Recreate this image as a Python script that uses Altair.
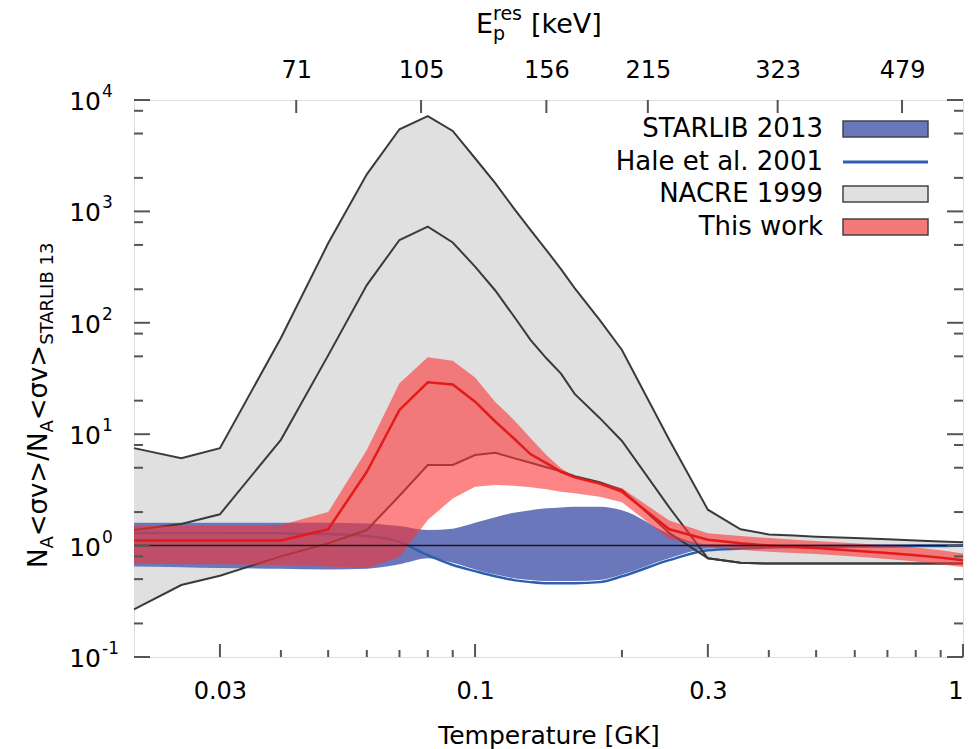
import math
import altair as alt
import pandas as pd

# ---------------- data ----------------
T = [0.02, 0.025, 0.03, 0.04, 0.05, 0.06, 0.07, 0.08, 0.09, 0.1, 0.11, 0.12, 0.13, 0.14,
     0.15, 0.16, 0.18, 0.2, 0.25, 0.3, 0.35, 0.4, 0.45, 0.5, 0.6, 0.7, 0.8, 0.9, 1.0]

NACRE_HI = [7.5, 6.1, 7.5, 73, 517, 2150, 5460, 7180, 5270, 3000, 1790, 1070, 680, 450,
            303, 205, 106, 57, 8.9, 2.1, 1.4, 1.26, 1.23, 1.2, 1.17, 1.14, 1.11, 1.09, 1.07]
NACRE_MID = [1.38, 1.56, 1.91, 8.9, 51, 218, 554, 729, 526, 319, 195, 115, 70, 48,
             35, 23, 14, 8.7, 2.2, 0.77, 0.7, 0.69, 0.69, 0.69, 0.69, 0.69, 0.69, 0.69, 0.69]
NACRE_LO = [0.268, 0.443, 0.537, 0.80, 1.05, 1.38, 2.8, 5.29, 5.29, 6.5, 6.8, 6.1, 5.55, 5.05,
            4.65, 4.2, 3.7, 3.16, 1.3, 0.77, 0.70, 0.69, 0.69, 0.69, 0.69, 0.69, 0.69, 0.69, 0.69]

WORK_MID = [1.11, 1.11, 1.11, 1.11, 1.4, 4.6, 16.5, 29.2, 28, 19.6, 13, 9.2, 6.6, 5.5,
            4.6, 4.1, 3.6, 3.05, 1.4, 1.13, 1.05, 1.0, 0.97, 0.95, 0.9, 0.86, 0.82, 0.78, 0.74]
WORK_HI = [1.5, 1.5, 1.51, 1.53, 2.0, 7.2, 28.6, 49, 45.7, 32.3, 19.5, 13.5, 9.2, 6.5,
           4.95, 4.15, 3.7, 3.27, 1.68, 1.29, 1.22, 1.17, 1.13, 1.1, 1.05, 1.0, 0.96, 0.91, 0.85]
WORK_LO = [0.69, 0.68, 0.68, 0.67, 0.65, 0.625, 0.79, 1.7, 2.65, 3.38, 3.5, 3.45, 3.34, 3.2,
           3.05, 2.95, 2.75, 2.45, 1.15, 0.98, 0.92, 0.88, 0.86, 0.84, 0.8, 0.76, 0.72, 0.68, 0.64]

STARLIB_HI = [1.6, 1.6, 1.6, 1.6, 1.6, 1.58, 1.5, 1.38, 1.42, 1.6, 1.8, 1.97, 2.08, 2.16,
              2.2, 2.23, 2.23, 2.08, 1.28, 1.03, 1.03, 1.03, 1.03, 1.03, 1.03, 1.03, 1.03, 1.03, 1.03]
STARLIB_LO = [0.65, 0.64, 0.63, 0.62, 0.61, 0.62, 0.68, 0.77, 0.70, 0.61, 0.55, 0.51, 0.49, 0.48,
              0.48, 0.48, 0.49, 0.55, 0.77, 0.94, 0.96, 0.97, 0.97, 0.97, 0.97, 0.97, 0.97, 0.97, 0.97]
HALE = [1.3, 1.3, 1.3, 1.29, 1.27, 1.22, 1.08, 0.82, 0.67, 0.59, 0.53, 0.49, 0.47, 0.46,
        0.46, 0.46, 0.47, 0.53, 0.74, 0.91, 0.94, 0.96, 0.97, 0.97, 0.98, 0.98, 0.99, 0.99, 1.0]
REFERENCE = [1.0]

X_MAJOR = [0.03, 0.1, 0.3, 1.0]
X_MINOR = [0.04, 0.05, 0.06, 0.07, 0.08, 0.09, 0.2, 0.4, 0.5, 0.6, 0.7, 0.8, 0.9]
Y_MAJOR = [0.1, 1, 10, 100, 1000, 10000]
Y_EXP = ["-1", "0", "1", "2", "3", "4"]
Y_MINOR = [0.2, 0.5, 0.8, 2, 5, 8, 20, 50, 80, 200, 500, 800, 2000, 5000, 8000]
T_TOP = [0.043, 0.0775, 0.140, 0.226, 0.417, 0.75]
E_TOP = ["71", "105", "156", "215", "323", "479"]

LEG_LABELS = ["STARLIB 2013", "Hale et al. 2001", "NACRE 1999", "This work"]

# ---------------- styling ----------------
W, H = 829, 557
FONT = "DejaVu Sans"
GREY = "#e0e0e0"
BLUE_FILL = "#6a77ba"
BLUE_LINE = "#2c5fb0"
RED = "#fb3333"
RED_LINE = "#e41a1c"
DARK = "#3a3a3a"
TICK = "#555555"

xs = alt.Scale(type="log", domain=[0.02, 1.0], nice=False)
ys = alt.Scale(type="log", domain=[0.1, 10000], nice=False)


def ternary(vals, labels):
    expr = "'" + labels[-1] + "'"
    for i in range(len(vals) - 2, -1, -1):
        thr = math.sqrt(vals[i] * vals[i + 1])
        expr = "datum.value < %g ? '%s' : (%s)" % (thr, labels[i], expr)
    return expr


def X(field, axis=None):
    return alt.X(field, type="quantitative", scale=xs, axis=axis)


def Y(field, axis=None):
    return alt.Y(field, type="quantitative", scale=ys, axis=axis)


df = pd.DataFrame({
    "T": T, "n_hi": NACRE_HI, "n_mid": NACRE_MID, "n_lo": NACRE_LO,
    "r_hi": WORK_HI, "r_mid": WORK_MID, "r_lo": WORK_LO,
    "s_hi": STARLIB_HI, "s_lo": STARLIB_LO, "hale": HALE,
})
base = alt.Chart(df)

nacre_band = base.mark_area(color=GREY).encode(x=X("T"), y=Y("n_hi"), y2="n_lo")
st_band = base.mark_area(color=BLUE_FILL, interpolate="monotone").encode(
    x=X("T"), y=Y("s_hi"), y2="s_lo")
hale_line = base.mark_line(color=BLUE_LINE, strokeWidth=2.5, interpolate="monotone").encode(
    x=X("T"), y=Y("hale"))
red_band = base.mark_area(color=RED, opacity=0.6).encode(x=X("T"), y=Y("r_hi"), y2="r_lo")
red_line = base.mark_line(color=RED_LINE, strokeWidth=2.5).encode(x=X("T"), y=Y("r_mid"))
n_lines = [base.mark_line(color=DARK, strokeWidth=2).encode(x=X("T"), y=Y(f))
           for f in ["n_hi", "n_mid", "n_lo"]]
ref_line = alt.Chart(pd.DataFrame({"v": REFERENCE})).mark_rule(
    color="#1a1a1a", strokeWidth=1.5).encode(y=Y("v"))

# ---------------- axes (inward ticks drawn as rules) ----------------
bottom_axis = alt.Axis(orient="bottom", values=X_MAJOR, format="~g", ticks=False, domain=False,
                       grid=False, labelFontSize=24, labelPadding=22, labelFont=FONT,
                       labelColor="black", title="Temperature [GK]", titleFontSize=25,
                       titleFont=FONT, titleFontWeight="normal", titleColor="black",
                       titlePadding=20)
top_axis = alt.Axis(orient="top", values=T_TOP, labelExpr=ternary(T_TOP, E_TOP), ticks=False,
                    domain=False, grid=False, labelFontSize=24, labelPadding=18,
                    labelFont=FONT, labelColor="black", title=None)

xmaj = pd.DataFrame({"t": X_MAJOR})
xmin = pd.DataFrame({"t": X_MINOR})
xtop = pd.DataFrame({"t": T_TOP})
ymaj = pd.DataFrame({"v": Y_MAJOR, "e": Y_EXP})
ymin = pd.DataFrame({"v": Y_MINOR})

tick_layers = [
    alt.Chart(xmaj).mark_rule(color=TICK, strokeWidth=2).encode(
        x=X("t", bottom_axis), y=alt.value(H), y2=alt.value(H - 13)),
    alt.Chart(xmin).mark_rule(color=TICK, strokeWidth=2).encode(
        x=X("t"), y=alt.value(H), y2=alt.value(H - 7)),
    alt.Chart(xtop).mark_rule(color=TICK, strokeWidth=2).encode(
        x=X("t", top_axis), y=alt.value(0), y2=alt.value(13)),
    alt.Chart(ymaj).mark_rule(color=TICK, strokeWidth=2).encode(
        y=Y("v"), x=alt.value(0), x2=alt.value(16)),
    alt.Chart(ymin).mark_rule(color=TICK, strokeWidth=2).encode(
        y=Y("v"), x=alt.value(0), x2=alt.value(9)),
    alt.Chart(ymaj).mark_rule(color=TICK, strokeWidth=2).encode(
        y=Y("v"), x=alt.value(W), x2=alt.value(W - 16)),
    alt.Chart(ymin).mark_rule(color=TICK, strokeWidth=2).encode(
        y=Y("v"), x=alt.value(W), x2=alt.value(W - 9)),
    # y tick labels: "10" with a raised exponent
    alt.Chart(ymaj).mark_text(font=FONT, fontSize=25, align="right", baseline="middle",
                              color="black", dy=2).encode(
        y=Y("v"), x=alt.value(-33), text=alt.value("10")),
    alt.Chart(ymaj).mark_text(font=FONT, fontSize=17, align="left", baseline="middle",
                              color="black", dy=-8).encode(
        y=Y("v"), x=alt.value(-32), text="e:N"),
]

# ---------------- titles built from pieces (sub/superscripts) ----------------
one = pd.DataFrame({"k": [0]})


def txt(s, x, y, size, angle=0, align="left"):
    kw = dict(font=FONT, fontSize=size, color="black", align=align, baseline="alphabetic")
    if angle:
        kw["angle"] = angle
    return alt.Chart(one).mark_text(**kw).encode(
        x=alt.value(x), y=alt.value(y), text=alt.value(s))


MAIN, SUB = 26, 18
y_title = [
    txt("N", -87, 468, MAIN, 270),
    txt("A", -81, 448.6, SUB, 270),
    txt("<\u03c3v>/N", -87, 436.3, MAIN, 270),
    txt("A", -81, 332.6, SUB, 270),
    txt("<\u03c3v>", -87, 320.3, MAIN, 270),
    txt("STARLIB 13", -81, 244.8, SUB, 270),
]
top_title = [
    txt("E", 342, -67, 27),
    txt("p", 359, -60, 19),
    txt("res", 359, -80, 19),
    txt("[keV]", 397, -67, 27),
]

# ---------------- legend ----------------
LX_TEXT, LX0, LX1 = 689, 709, 794
ROWS = [29, 62, 94, 127]
legend = []
for lab, ry in zip(LEG_LABELS, ROWS):
    legend.append(alt.Chart(one).mark_text(font=FONT, fontSize=26, align="right",
                                           baseline="middle", color="black").encode(
        x=alt.value(LX_TEXT), y=alt.value(ry), text=alt.value(lab)))
swatch_fill = [BLUE_FILL, None, GREY, "#f27a7a"]
for fill, ry in zip(swatch_fill, ROWS):
    if fill is None:
        legend.append(alt.Chart(one).mark_rule(color=BLUE_LINE, strokeWidth=3).encode(
            x=alt.value(LX0), x2=alt.value(LX1), y=alt.value(ry)))
    else:
        legend.append(alt.Chart(one).mark_rect(fill=fill, stroke="#444444",
                                               strokeWidth=1.5).encode(
            x=alt.value(LX0), x2=alt.value(LX1), y=alt.value(ry - 8), y2=alt.value(ry + 8)))

layers = ([nacre_band, st_band, hale_line] + n_lines + [red_band, red_line, ref_line]
          + tick_layers + y_title + top_title + legend)

chart = alt.layer(*layers).resolve_axis(x="independent", y="independent").properties(
    width=W, height=H,
    padding={"left": 134, "top": 100, "right": 16, "bottom": 92},
    autosize=alt.AutoSizeParams(type="none"),
).configure_view(stroke="#666666", strokeWidth=2).configure(background="white")

chart.save("out.html", embed_options={"renderer": "svg", "actions": False})
